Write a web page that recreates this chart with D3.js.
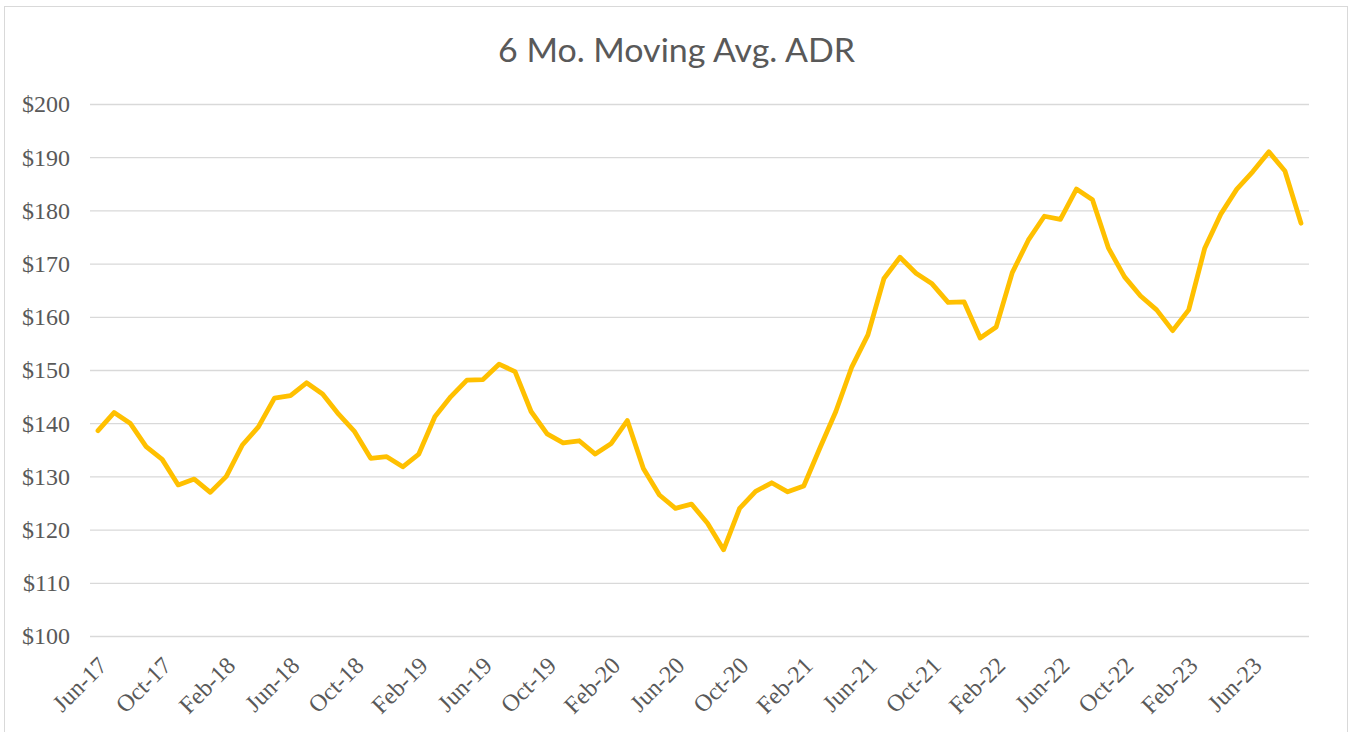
<!DOCTYPE html>
<html>
<head>
<meta charset="utf-8">
<script src="https://cdn.jsdelivr.net/npm/d3@7"></script>
<style>
  html, body { margin: 0; padding: 0; background: #ffffff; }
  svg { display: block; }
</style>
</head>
<body>
<svg id="chart" width="1351" height="732"></svg>
<script>
// Monthly periods, Jun-17 through Sep-23
const monthNames = ["Jan","Feb","Mar","Apr","May","Jun","Jul","Aug","Sep","Oct","Nov","Dec"];
const months = [];
for (let y = 17, m = 5; !(y === 23 && m === 9); ) {
  months.push(monthNames[m] + "-" + y);
  m++; if (m === 12) { m = 0; y++; }
}

// 6-month moving average ADR ($)
const adr = [
  138.6, 142.0, 140.0, 135.6, 133.2, 128.4, 129.5, 127.0, 130.0, 135.9,
  139.3, 144.7, 145.2, 147.6, 145.5, 141.7, 138.4, 133.4, 133.7, 131.8,
  134.2, 141.2, 145.0, 148.1, 148.2, 151.1, 149.7, 142.2, 138.0, 136.3,
  136.7, 134.2, 136.2, 140.5, 131.5, 126.5, 124.0, 124.8, 121.2, 116.2,
  124.0, 127.2, 128.8, 127.1, 128.2, 135.3, 142.2, 150.6, 156.6, 167.2,
  171.2, 168.2, 166.2, 162.7, 162.8, 156.0, 158.1, 168.3, 174.4, 178.9,
  178.3, 184.0, 182.0, 172.9, 167.5, 163.9, 161.3, 157.4, 161.3, 172.9,
  179.3, 184.0, 187.3, 191.0, 187.4, 177.6
];

// Axis ticks
const yTicks = [100, 110, 120, 130, 140, 150, 160, 170, 180, 190, 200];
const xTickLabels = months.filter((d, i) => i % 4 === 0);

const title = "6 Mo. Moving Avg. ADR";

const svg = d3.select("#chart");
const plot = { left: 90, right: 1309, top: 104, bottom: 636 };

// Chart area border
svg.append("rect")
  .attr("x", 4.5).attr("y", 6.5)
  .attr("width", 1343).attr("height", 740)
  .attr("fill", "#ffffff")
  .attr("stroke", "#D9D9D9")
  .attr("stroke-width", 1);

const x = d3.scalePoint()
  .domain(months)
  .range([plot.left, plot.right])
  .padding(0.5);

const y = d3.scaleLinear()
  .domain([100, 200])
  .range([plot.bottom, plot.top]);

// Horizontal gridlines + dollar labels
const yAxis = d3.axisLeft(y)
  .tickValues(yTicks)
  .tickSize(-(plot.right - plot.left))
  .tickPadding(20)
  .tickFormat(d => "$" + d);

const gy = svg.append("g")
  .attr("transform", `translate(${plot.left},0)`)
  .call(yAxis);
gy.select(".domain").remove();
gy.selectAll(".tick line")
  .attr("stroke", "#D9D9D9")
  .attr("stroke-width", 1.3);
gy.selectAll(".tick text")
  .attr("fill", "#595959")
  .attr("font-family", "'Liberation Serif', 'Times New Roman', serif")
  .attr("font-size", 24)
  .attr("dy", "0.33em");

// Category axis with rotated month labels
const xAxis = d3.axisBottom(x)
  .tickValues(xTickLabels)
  .tickSize(0)
  .tickPadding(0);

const gx = svg.append("g")
  .attr("transform", `translate(0,${plot.bottom})`)
  .call(xAxis);
gx.select(".domain").remove();
gx.selectAll(".tick text")
  .attr("fill", "#595959")
  .attr("font-family", "'Liberation Serif', 'Times New Roman', serif")
  .attr("font-size", 24)
  .attr("text-anchor", "end")
  .attr("dy", null)
  .attr("y", 0)
  .attr("transform", "translate(10,31) rotate(-45)");

// ADR line
const line = d3.line()
  .x((d, i) => x(months[i]))
  .y(d => y(d));

svg.append("path")
  .datum(adr)
  .attr("fill", "none")
  .attr("stroke", "#FFC000")
  .attr("stroke-width", 4.8)
  .attr("stroke-linejoin", "round")
  .attr("stroke-linecap", "round")
  .attr("d", line);

// Title
svg.append("text")
  .attr("x", 676.5)
  .attr("y", 62)
  .attr("text-anchor", "middle")
  .attr("fill", "#595959")
  .attr("font-family", "Lato, 'Open Sans', sans-serif")
  .attr("font-size", 33)
  .attr("textLength", 357)
  .attr("lengthAdjust", "spacingAndGlyphs")
  .text(title);
</script>
</body>
</html>
